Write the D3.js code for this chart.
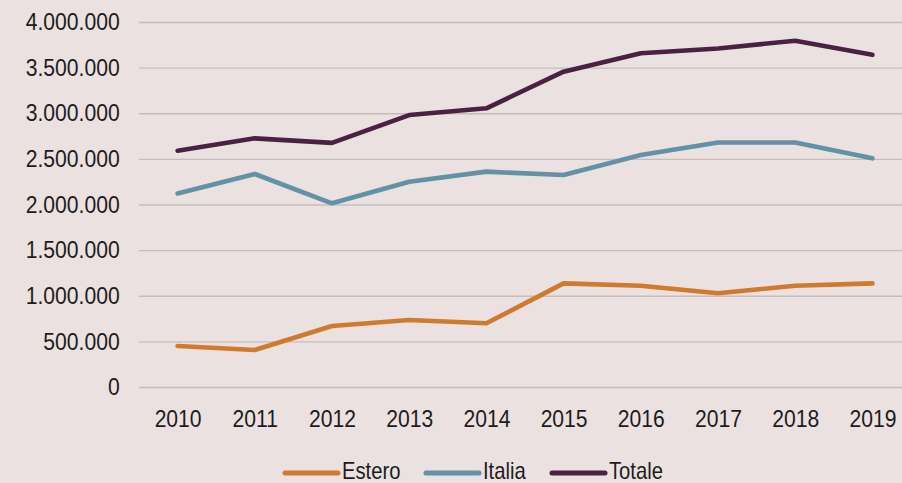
<!DOCTYPE html>
<html>
<head>
<meta charset="utf-8">
<script src="https://cdn.jsdelivr.net/npm/d3@7"></script>
<style>
  html, body { margin: 0; padding: 0; background: #ebe1e0; }
  svg { display: block; }
  text { font-family: "Liberation Sans", Arial, sans-serif; fill: #1c1c1c; }
</style>
</head>
<body>
<div class="container"></div>
<script>
// data
const years = ["2010", "2011", "2012", "2013", "2014", "2015", "2016", "2017", "2018", "2019"];
const estero = [450000, 405000, 668000, 734000, 698000, 1136000, 1110000, 1027000, 1110000, 1136000];
const italia = [2120000, 2334000, 2013000, 2250000, 2360000, 2323000, 2542000, 2680000, 2680000, 2506000];
const totale = [2590000, 2725000, 2675000, 2980000, 3054000, 3456000, 3657000, 3710000, 3795000, 3640000];
const seriesNames = ["Estero", "Italia", "Totale"];
const yTicks = [0, 500000, 1000000, 1500000, 2000000, 2500000, 3000000, 3500000, 4000000];

const w = 902;
const h = 483;
const padding = {left: 139, top: 22, right: -9, bottom: 96};
const colors = {Estero: "#d07a2e", Italia: "#6192a6", Totale: "#4b2142"};
const squeeze = "scale(0.88,1)";

const it = d3.formatLocale({decimal: ",", thousands: ".", grouping: [3], currency: ["€", ""]});
const fmt = it.format(",d");

const xScale = d3.scalePoint()
                 .domain(years)
                 .range([padding.left, w - padding.right])
                 .padding(0.5);
const yScale = d3.scaleLinear()
                 .domain([0, 4000000])
                 .range([h - padding.bottom, padding.top]);

const svg = d3.select(".container")
              .append("svg")
              .attr("width", w)
              .attr("height", h);

svg.append("rect")
   .attr("width", w)
   .attr("height", h)
   .attr("fill", "#ebe1e0");

// y axis doubles as gridlines
const yAxis = d3.axisLeft(yScale)
                .tickValues(yTicks)
                .tickFormat(fmt)
                .tickSize(-(w - padding.right - padding.left))
                .tickPadding(22);
const gy = svg.append("g")
   .attr("transform", "translate(" + padding.left + ",0)")
   .call(yAxis);
gy.select(".domain").remove();
gy.selectAll("line").attr("stroke", "#c6bcbc").attr("stroke-width", 1.4);
gy.selectAll("text")
   .attr("transform", squeeze)
   .style("font-size", "24px")
   .attr("fill", "#1c1c1c");

// x axis
const xAxis = d3.axisBottom(xScale).tickSize(0).tickPadding(23);
const gx = svg.append("g")
   .attr("transform", "translate(0," + (h - padding.bottom) + ")")
   .call(xAxis);
gx.select(".domain").remove();
gx.selectAll("text")
   .attr("transform", squeeze)
   .style("font-size", "24px")
   .attr("fill", "#1c1c1c");

const seriesData = {Estero: estero, Italia: italia, Totale: totale};
const line = d3.line()
               .x((d, i) => xScale(years[i]))
               .y(d => yScale(d));

seriesNames.forEach(name => {
  svg.append("path")
     .datum(seriesData[name])
     .attr("fill", "none")
     .attr("stroke", colors[name])
     .attr("stroke-width", 4.6)
     .attr("stroke-linejoin", "round")
     .attr("stroke-linecap", "round")
     .attr("d", line);
});

// legend (sits at the very bottom edge, as in the original)
const legendX = [285, 426, 552];
const legendY = 471;
const lg = svg.append("g");
seriesNames.forEach((name, i) => {
  lg.append("line")
    .attr("x1", legendX[i])
    .attr("x2", legendX[i] + 53)
    .attr("y1", legendY + 2)
    .attr("y2", legendY + 2)
    .attr("stroke", colors[name])
    .attr("stroke-width", 5)
    .attr("stroke-linecap", "round");
  lg.append("text")
    .attr("x", (legendX[i] + 57) / 0.88)
    .attr("y", legendY)
    .attr("dy", "0.35em")
    .attr("transform", squeeze)
    .style("font-size", "23px")
    .text(name);
});
</script>
</body>
</html>
